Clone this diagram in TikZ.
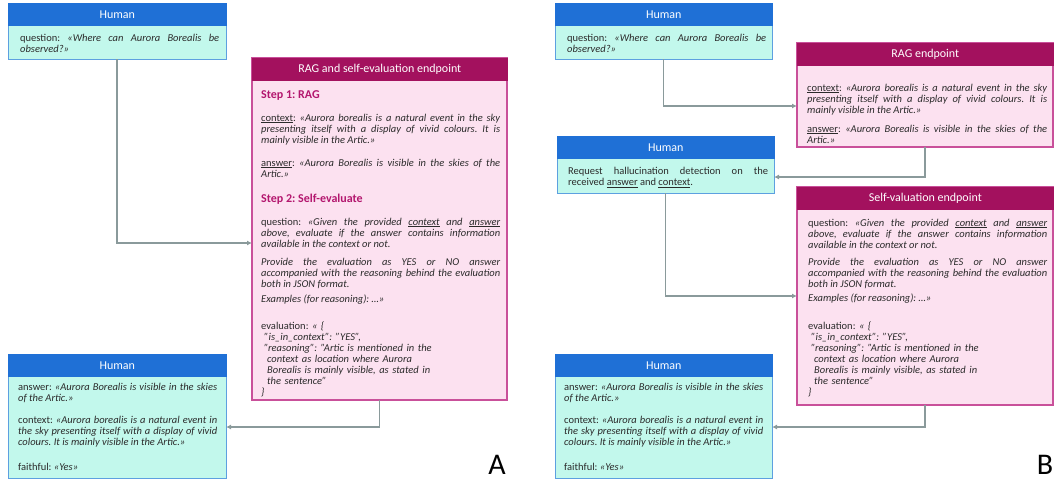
\documentclass[tikz,border=0pt]{standalone}
\usepackage{fontspec}
\setmainfont{Carlito}
\usetikzlibrary{arrows.meta}
\definecolor{hblue}{HTML}{1F70D6}
\definecolor{hfill}{HTML}{C2F8EC}
\definecolor{hborder}{HTML}{5DA0E0}
\definecolor{pmag}{HTML}{A3115E}
\definecolor{pfill}{HTML}{FCE1F0}
\definecolor{pborder}{HTML}{C9509A}
\definecolor{stepc}{HTML}{B3166E}
\definecolor{txt}{HTML}{2B2B2B}
\definecolor{conncol}{HTML}{8A9A9B}
\begin{document}
\frenchspacing
\begin{tikzpicture}[x=1pt,y=-1pt,
  hbody/.style={draw=hborder, fill=hfill, line width=1pt, anchor=north west, inner sep=0pt, outer sep=0pt},
  pbody/.style={draw=pborder, fill=pfill, line width=1.2pt, anchor=north west, inner sep=0pt, outer sep=0pt},
  hhead/.style={fill=hblue, draw=hblue, line width=0.6pt, anchor=north west, inner sep=0pt, minimum height=22pt, text=white, font=\fontsize{12}{14}\selectfont},
  phead/.style={fill=pmag, draw=pmag, line width=0.6pt, anchor=north west, inner sep=0pt, minimum height=22pt, text=white, font=\fontsize{12}{14}\selectfont},
  btext/.style={anchor=base west, inner sep=0pt, align=justify, text=txt, font=\fontsize{10.5}{11.3}\selectfont\frenchspacing},
  jtext/.style={anchor=base west, inner sep=0pt, align=left, text width=239pt, text=txt, font=\fontsize{10.5}{11}\selectfont\frenchspacing},
  steptext/.style={anchor=base west, inner sep=0pt, text=stepc, font=\fontsize{12}{14}\selectfont\bfseries},
  conn/.style={draw=conncol, line width=1.1pt, -{Latex[length=5pt,width=5pt]}},
  panel/.style={anchor=base, inner sep=0pt, text=black, font=\fontsize{30}{30}\selectfont}
]
\useasboundingbox (0,0) rectangle (1055,483);

% ---------------- Panel A ----------------
\node[hbody, minimum width=218pt, minimum height=56pt] (h1) at (8,3) {};
\node[hhead, minimum width=218pt] (h1h) at (h1.north west) {Human};
\node[btext, text width=199pt] (h1t) at (20,41) {question: \textit{«Where can Aurora Borealis be\linebreak observed?»}};

\node[pbody, minimum width=255pt, minimum height=342pt] (rag) at (252,58) {};
\node[phead, minimum width=255pt] (ragh) at (rag.north west) {RAG and self-evaluation endpoint};
\node[steptext] (s1) at (261,98) {Step 1: RAG};
\node[btext, text width=239pt] (c1) at (261,121) {\underline{context}: \textit{«Aurora borealis is a natural event in the sky\linebreak presenting itself with a display of vivid colours. It is\linebreak mainly visible in the Artic.»}};
\node[btext, text width=239pt] (a1) at (261,166) {\underline{answer}: \textit{«Aurora Borealis is visible in the skies of the\linebreak Artic.»}};
\node[steptext] (s2) at (261,202) {Step 2: Self-evaluate};
\node[btext, text width=239pt] (q1) at (261,225) {question: \textit{«Given the provided \underline{context} and \underline{answer}\linebreak above, evaluate if the answer contains information\linebreak available in the context or not.}};
\node[btext, text width=239pt] (p1) at (261,265) {\textit{Provide the evaluation as YES or NO answer\linebreak accompanied with the reasoning behind the evaluation\linebreak both in JSON format.}};
\node[btext, text width=239pt] (e1) at (261,302) {\textit{Examples (for reasoning): …»}};
\node[jtext] (v1) at (261,329) {evaluation: \textit{« \{}\\
\hspace*{3pt}\textit{"is\_in\_context": "YES",}\\
\hspace*{3pt}\textit{"reasoning": "Artic is mentioned in the}\\
\hspace*{6pt}\textit{context as location where Aurora}\\
\hspace*{6pt}\textit{Borealis is mainly visible, as stated in}\\
\hspace*{6pt}\textit{the sentence"}\\
\textit{\}}};

\node[hbody, minimum width=218pt, minimum height=124pt] (h2) at (8,354) {};
\node[hhead, minimum width=218pt] (h2h) at (h2.north west) {Human};
\node[btext, text width=199pt] (h2a) at (18,390) {answer: \textit{«Aurora Borealis is visible in the skies\linebreak of the Artic.»}};
\node[btext, text width=199pt] (h2c) at (18,423) {context: \textit{«Aurora borealis is a natural event in\linebreak the sky presenting itself with a display of vivid\linebreak colours. It is mainly visible in the Artic.»}};
\node[btext, text width=199pt] (h2f) at (18,470) {faithful: \textit{«Yes»}};

\draw[conn] (h1.south) |- ([yshift=-14pt]rag.west);
\draw[conn] (rag.south) |- ([yshift=-11pt]h2.east);

\node[panel] (la) at (497,474) {A};

% ---------------- Panel B ----------------
\node[hbody, minimum width=217pt, minimum height=56pt] (h3) at (555,3) {};
\node[hhead, minimum width=217pt] (h3h) at (h3.north west) {Human};
\node[btext, text width=199pt] (h3t) at (567,41) {question: \textit{«Where can Aurora Borealis be\linebreak observed?»}};

\node[pbody, minimum width=256pt, minimum height=104pt] (ragB) at (797,43) {};
\node[phead, minimum width=256pt] (ragBh) at (ragB.north west) {RAG endpoint};
\node[btext, text width=240pt] (c2) at (807,91) {\underline{context}: \textit{«Aurora borealis is a natural event in the sky\linebreak presenting itself with a display of vivid colours. It is\linebreak mainly visible in the Artic.»}};
\node[btext, text width=240pt] (a2) at (807,132) {\underline{answer}: \textit{«Aurora Borealis is visible in the skies of the\linebreak Artic.»}};

\node[hbody, minimum width=217pt, minimum height=57pt] (h4) at (557,136) {};
\node[hhead, minimum width=217pt] (h4h) at (h4.north west) {Human};
\node[btext, text width=200pt] (h4t) at (568,174) {Request hallucination detection on the\linebreak received \underline{answer} and \underline{context}.};

\node[pbody, minimum width=256pt, minimum height=218pt] (sv) at (797,187) {};
\node[phead, minimum width=256pt] (svh) at (sv.north west) {Self-valuation endpoint};
\node[btext, text width=239pt] (q2) at (808,226) {question: \textit{«Given the provided \underline{context} and \underline{answer}\linebreak above, evaluate if the answer contains information\linebreak available in the context or not.}};
\node[btext, text width=239pt] (p2) at (808,265) {\textit{Provide the evaluation as YES or NO answer\linebreak accompanied with the reasoning behind the evaluation\linebreak both in JSON format.}};
\node[btext, text width=239pt] (e2) at (808,301) {\textit{Examples (for reasoning): …»}};
\node[jtext] (v2) at (808,329) {evaluation: \textit{« \{}\\
\hspace*{3pt}\textit{"is\_in\_context": "YES",}\\
\hspace*{3pt}\textit{"reasoning": "Artic is mentioned in the}\\
\hspace*{6pt}\textit{context as location where Aurora}\\
\hspace*{6pt}\textit{Borealis is mainly visible, as stated in}\\
\hspace*{6pt}\textit{the sentence"}\\
\textit{\}}};

\node[hbody, minimum width=217pt, minimum height=124pt] (h5) at (555,354) {};
\node[hhead, minimum width=217pt] (h5h) at (h5.north west) {Human};
\node[btext, text width=199pt] (h5a) at (564,390) {answer: \textit{«Aurora Borealis is visible in the skies\linebreak of the Artic.»}};
\node[btext, text width=199pt] (h5c) at (564,423) {context: \textit{«Aurora borealis is a natural event in\linebreak the sky presenting itself with a display of vivid\linebreak colours. It is mainly visible in the Artic.»}};
\node[btext, text width=199pt] (h5f) at (564,470) {faithful: \textit{«Yes»}};

\draw[conn] (h3.south) |- ([yshift=-11pt]ragB.west);
\draw[conn] (ragB.south) |- ([yshift=-12.5pt]h4.east);
\draw[conn] (h4.south) |- (sv.west);
\draw[conn] (sv.south) |- ([yshift=-11pt]h5.east);

\node[panel] (lb) at (1045,474) {B};
\end{tikzpicture}
\end{document}
